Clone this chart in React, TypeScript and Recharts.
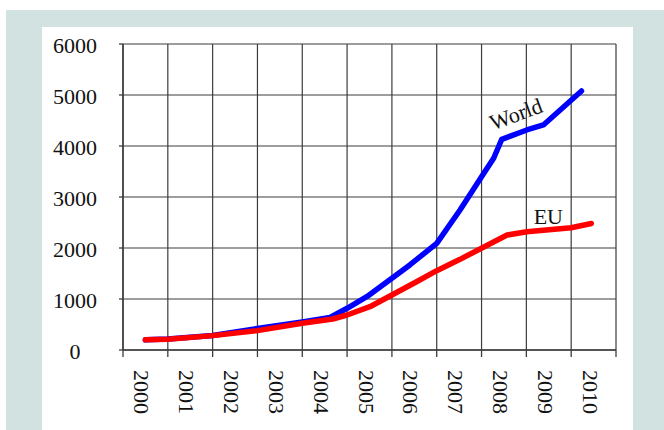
import { LineChart, Line, XAxis, YAxis, CartesianGrid, ReferenceDot, ReferenceLine } from 'recharts';

const yearLabels = [2000, 2001, 2002, 2003, 2004, 2005, 2006, 2007, 2008, 2009, 2010];
const cellEdges = [2000, 2001, 2002, 2003, 2004, 2005, 2006, 2007, 2008, 2009, 2010, 2011];
const yTicks = [0, 1000, 2000, 3000, 4000, 5000, 6000];

// positions along the year axis where the traced lines bend
const worldX = [2000.5, 2001.0, 2002.0, 2003.0, 2004.0, 2004.62, 2005.0, 2005.44, 2006.0, 2006.4, 2007.0, 2007.52, 2008.0, 2008.27, 2008.38, 2008.45, 2009.01, 2009.38, 2010.23];
const worldValues = [200, 215, 285, 420, 550, 637, 818, 1045, 1406, 1667, 2092, 2745, 3398, 3759, 3986, 4131, 4314, 4412, 5078];

const euX = [2000.5, 2001.0, 2002.0, 2003.0, 2004.0, 2004.68, 2005.0, 2005.51, 2006.0, 2006.55, 2007.0, 2007.52, 2008.57, 2009.01, 2010.0, 2010.45];
const euValues = [200, 212, 282, 380, 524, 608, 686, 849, 1078, 1339, 1555, 1778, 2255, 2320, 2398, 2480];

const worldLabel = { text: 'World', x: 2008.77, y: 4627, angle: -20 };
const euLabel = { text: 'EU', x: 2009.49, y: 2627, angle: 0 };

const worldData = worldX.map((x, i) => ({ x, value: worldValues[i] }));
const euData = euX.map((x, i) => ({ x, value: euValues[i] }));
// edges get a tick mark, cell middles get the year label
const xTicks = [...cellEdges, ...yearLabels.map((y) => y + 0.5)].sort((a, b) => a - b);

const FONT = "'Liberation Serif', 'Times New Roman', serif";
const GRID = '#3c3c3c';

const YTick = ({ x, y, payload }: any) => (
  <text x={x} y={y} dy={1} textAnchor="middle" dominantBaseline="central" fontFamily={FONT} fontSize={22} fill="#111">
    {payload.value}
  </text>
);

const XTick = ({ x, y, payload }: any) => {
  if (Number.isInteger(payload.value)) {
    return <line x1={x} y1={y} x2={x} y2={y + 7} stroke={GRID} strokeWidth={1.3} />;
  }
  return (
    <text
      transform={`translate(${x - 3.5}, ${y + 20}) rotate(90)`}
      textAnchor="start"
      dominantBaseline="central"
      fontFamily={FONT}
      fontSize={22}
      fill="#111"
    >
      {Math.floor(payload.value)}
    </text>
  );
};

const makeLabel = (text: string, angle: number) => (props: any) => {
  const { viewBox } = props;
  const cx = viewBox.x + viewBox.width / 2;
  const cy = viewBox.y + viewBox.height / 2;
  return (
    <text
      transform={`translate(${cx}, ${cy}) rotate(${angle})`}
      textAnchor="middle"
      dominantBaseline="central"
      fontFamily={FONT}
      fontSize={22}
      fill="#111"
    >
      {text}
    </text>
  );
};

export default function App() {
  return (
    <div style={{ position: 'absolute', left: 0, top: 0, width: 664, height: 430, background: '#fff', overflow: 'hidden' }}>
      <div style={{ position: 'absolute', left: 6, top: 10, right: 0, bottom: 0, background: '#d2e2e1' }} />
      <div style={{ position: 'absolute', left: 42, top: 27, width: 591, height: 403, background: '#fff' }} />
      <div style={{ position: 'absolute', left: 0, top: 0 }}>
        <LineChart width={664} height={430} margin={{ top: 44, right: 48, bottom: 0, left: 0 }}>
          <CartesianGrid vertical={false} stroke={GRID} strokeWidth={1.2} />
          {cellEdges.map((v) => (
            <ReferenceLine key={v} x={v} stroke={GRID} strokeWidth={1.2} ifOverflow="visible" />
          ))}
          <XAxis
            type="number"
            dataKey="x"
            domain={[2000, 2011]}
            ticks={xTicks}
            allowDataOverflow
            height={80}
            interval={0}
            tickSize={0}
            tickMargin={0}
            tickLine={false}
            axisLine={{ stroke: GRID, strokeWidth: 1.5 }}
            tick={<XTick />}
          />
          <YAxis
            type="number"
            domain={[0, 6000]}
            ticks={yTicks}
            width={123}
            tickSize={4}
            tickMargin={44}
            interval={0}
            axisLine={{ stroke: GRID, strokeWidth: 1.5 }}
            tickLine={{ stroke: GRID, strokeWidth: 1.3 }}
            tick={<YTick />}
          />
          <Line
            data={worldData}
            dataKey="value"
            type="linear"
            stroke="#0000ff"
            strokeWidth={5.5}
            strokeLinecap="round"
            strokeLinejoin="round"
            dot={false}
            activeDot={false}
            isAnimationActive={false}
          />
          <Line
            data={euData}
            dataKey="value"
            type="linear"
            stroke="#ff0000"
            strokeWidth={5.5}
            strokeLinecap="round"
            strokeLinejoin="round"
            dot={false}
            activeDot={false}
            isAnimationActive={false}
          />
          <ReferenceDot
            x={worldLabel.x}
            y={worldLabel.y}
            r={0}
            fill="none"
            stroke="none"
            ifOverflow="visible"
            label={{ content: makeLabel(worldLabel.text, worldLabel.angle) }}
          />
          <ReferenceDot
            x={euLabel.x}
            y={euLabel.y}
            r={0}
            fill="none"
            stroke="none"
            ifOverflow="visible"
            label={{ content: makeLabel(euLabel.text, euLabel.angle) }}
          />
        </LineChart>
      </div>
    </div>
  );
}
